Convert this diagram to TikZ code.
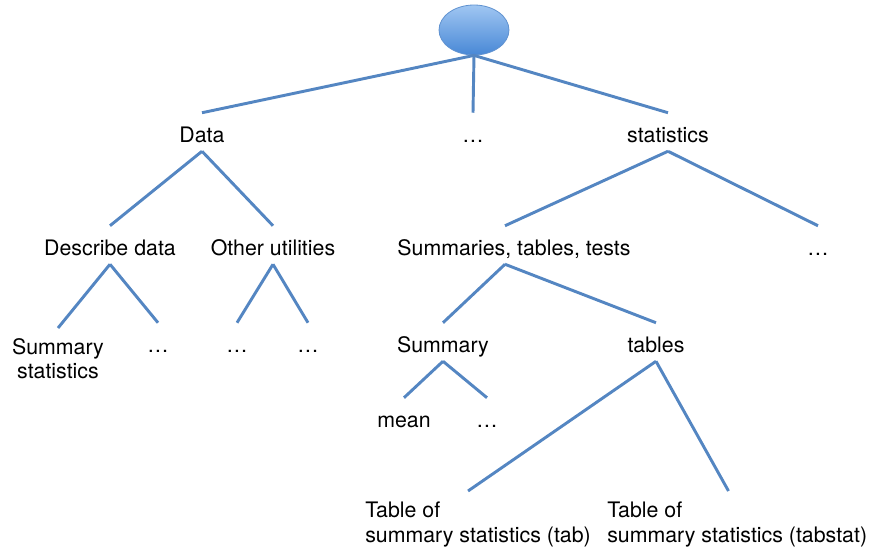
\documentclass[tikz,border=0pt]{standalone}
\usepackage{fontspec}
\setmainfont{TeX Gyre Heros}
\usepackage{tikz}
\usetikzlibrary{shapes.geometric}
\definecolor{treeblue}{RGB}{84,134,194}
\definecolor{roottop}{RGB}{160,198,242}
\definecolor{rootbottom}{RGB}{72,136,214}
\definecolor{rootedge}{RGB}{96,146,208}

\begin{document}
\begin{tikzpicture}[
    x=0.75pt, y=-0.75pt,
    font=\fontsize{16}{19}\selectfont,
    term/.style={
        anchor=base, inner xsep=0pt, inner ysep=5.25pt,
        text height=16.5pt, text depth=1.5pt
    },
    twoline/.style={anchor=north west, inner xsep=0pt, inner ysep=8pt, align=left},
    rootnode/.style={
        ellipse, minimum width=52.5pt, minimum height=37.5pt, inner sep=0pt,
        top color=roottop, bottom color=rootbottom, draw=rootedge, line width=0.6pt
    },
    link/.style={treeblue, line width=2.2pt}
]
\useasboundingbox (0,0) rectangle (869,547);

\node[rootnode] (root) at (474,30) {};

\node[term] (data)  at (202,142) {Data};
\node[term] (dotsa) at (473,142) {…};
\node[term] (stats) at (668,142) {statistics};

\node[term] (descr) at (110,255) {Describe data};
\node[term] (other) at (273,255) {Other utilities};
\node[term] (summ)  at (514,255) {Summaries, tables, tests};
\node[term] (dotsb) at (818,255) {…};

\node[twoline, anchor=north, align=center, font=\fontsize{16}{17.5}\selectfont]
    (sumstat) at (58,328) {Summary\\statistics};
\node[term] (dotsc)   at (158,352) {…};
\node[term] (dotsd)   at (237,352) {…};
\node[term] (dotse)   at (308,352) {…};
\node[term] (summary) at (443,352) {Summary};
\node[term] (tables)  at (656,352) {tables};

\node[term] (mean)  at (404,427) {mean};
\node[term] (dotsf) at (487,427) {…};

\node[twoline] (tabsum)  at (365,491) {Table of\\summary statistics (tab)};
\node[twoline] (tabstat) at (607,491) {Table of\\summary statistics (tabstat)};

\draw[link] (root.south) -- (data.north);
\draw[link] (root.south) -- (dotsa.north);
\draw[link] (root.south) -- (stats.north);

\draw[link] (data.south) -- (descr.north);
\draw[link] (data.south) -- (other.north);
\draw[link] (stats.south) -- ([xshift=-6.75pt]summ.north);
\draw[link] (stats.south) -- (dotsb.north);

\draw[link] (descr.south) -- (sumstat.north);
\draw[link] (descr.south) -- (dotsc.north);
\draw[link] (other.south) -- (dotsd.north);
\draw[link] (other.south) -- (dotse.north);
\draw[link] ([xshift=-6.75pt]summ.south) -- (summary.north);
\draw[link] ([xshift=-6.75pt]summ.south) -- (tables.north);

\draw[link] (summary.south) -- (mean.north);
\draw[link] (summary.south) -- (dotsf.north);
\draw[link] (tables.south) -- ([xshift=-7.5pt]tabsum.north);
\draw[link] (tables.south) -- ([xshift=-6.5pt]tabstat.north);
\end{tikzpicture}
\end{document}
